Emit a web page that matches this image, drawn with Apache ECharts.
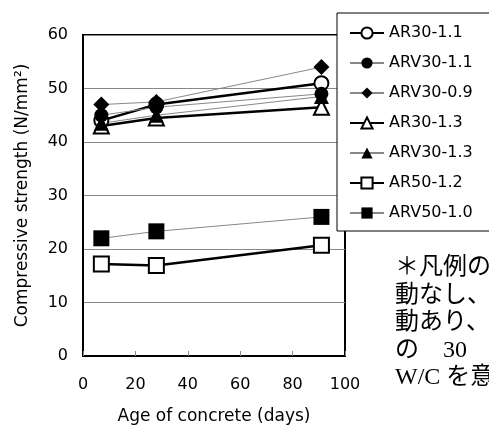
<!DOCTYPE html>
<html>
<head>
<meta charset="utf-8">
<script src="https://cdn.jsdelivr.net/npm/echarts@6/dist/echarts.min.js"></script>
<style>
html,body{margin:0;padding:0;background:#fff;}
#c{width:489px;height:430px;}
</style>
</head>
<body>
<div id="c"></div>
<script>
var days = [7, 28, 91];
var seriesNames = ['AR30-1.1', 'ARV30-1.1', 'ARV30-0.9', 'AR30-1.3', 'ARV30-1.3', 'AR50-1.2', 'ARV50-1.0'];
var AR30_1_1  = [44.0, 47.0, 51.0];
var ARV30_1_1 = [45.0, 46.5, 49.0];
var ARV30_0_9 = [47.0, 47.5, 54.0];
var AR30_1_3  = [43.0, 44.5, 46.5];
var ARV30_1_3 = [43.5, 45.0, 48.5];
var AR50_1_2  = [17.2, 16.9, 20.7];
var ARV50_1_0 = [22.0, 23.3, 26.0];
var xTicks = [0, 20, 40, 60, 80, 100];
var yTicks = [0, 10, 20, 30, 40, 50, 60];
var noteLines = ['＊凡例の', '動なし、', '動あり、', 'の　30', 'W/C を意'];

var FONT = '"DejaVu Sans", "Noto Sans CJK JP", sans-serif';
var values = [AR30_1_1, ARV30_1_1, ARV30_0_9, AR30_1_3, ARV30_1_3, AR50_1_2, ARV50_1_0];
var symbols = ['emptyCircle', 'circle', 'diamond', 'emptyTriangle', 'triangle', 'emptyRect', 'rect'];
var symSizes = [14, 14, 16, 15, 15, 15, 16];
var thick = [true, false, false, true, false, true, false];

var series = seriesNames.map(function (n, i) {
  return {
    name: n,
    type: 'line',
    data: days.map(function (d, j) { return [d, values[i][j]]; }),
    symbol: symbols[i],
    symbolSize: symSizes[i],
    showAllSymbol: true,
    lineStyle: thick[i] ? { color: '#000', width: 2.5 } : { color: '#888', width: 1 },
    itemStyle: { color: '#000', borderColor: '#000', borderWidth: thick[i] ? 1.5 : 0 },
    emphasis: { disabled: true },
    animation: false
  };
});

var chart = echarts.init(document.getElementById('c'), null, { renderer: 'canvas' });
chart.setOption({
  animation: false,
  backgroundColor: '#fff',
  grid: { left: 83, right: 144, top: 35, bottom: 68, show: true, borderColor: '#000', borderWidth: 2 },
  xAxis: {
    type: 'value', min: xTicks[0], max: xTicks[xTicks.length - 1], interval: 20,
    name: 'Age of concrete (days)', nameLocation: 'middle', nameGap: 52,
    nameTextStyle: { fontSize: 17, color: '#000', fontFamily: FONT },
    axisLine: { lineStyle: { color: '#000', width: 2 } },
    axisTick: { show: true, inside: true, length: 5, lineStyle: { color: '#888' } },
    axisLabel: { fontSize: 16, color: '#000', margin: 21, fontFamily: FONT },
    splitLine: { show: false }
  },
  yAxis: {
    type: 'value', min: yTicks[0], max: yTicks[yTicks.length - 1], interval: 10,
    name: 'Compressive strength (N/mm²)', nameLocation: 'middle', nameGap: 52, nameRotate: 90,
    nameTextStyle: { fontSize: 17, color: '#000', fontFamily: FONT },
    axisLine: { lineStyle: { color: '#000', width: 2 } },
    axisTick: { show: false },
    axisLabel: { fontSize: 16, color: '#000', margin: 15, fontFamily: FONT },
    splitLine: { show: true, lineStyle: { color: '#888', width: 1 } }
  },
  legend: {
    orient: 'vertical', left: 337, top: 13,
    padding: [12, 60, 10, 12],
    itemWidth: 34, itemHeight: 14, itemGap: 14,
    backgroundColor: '#fff', borderColor: '#000', borderWidth: 1,
    textStyle: { fontSize: 16, color: '#000', fontFamily: FONT },
    data: seriesNames,
    selectedMode: false,
    z: 10
  },
  graphic: noteLines.map(function (t, i) {
    return {
      type: 'text', left: 395, top: 256 + i * 27.5, z: 20,
      style: { text: t, fontSize: 24, lineHeight: 24, fill: '#000', fontFamily: '"Liberation Serif", "Noto Sans CJK JP", serif' }
    };
  }),
  series: series
});
</script>
</body>
</html>
